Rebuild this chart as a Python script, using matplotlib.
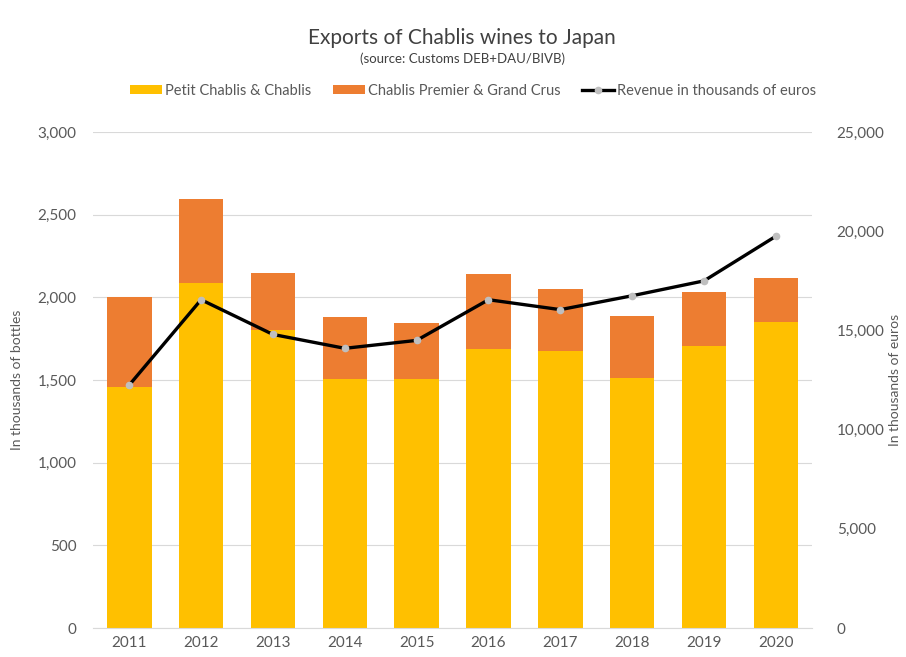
import numpy as np
import matplotlib.pyplot as plt
from matplotlib.ticker import FuncFormatter

plt.rcParams['font.family'] = ['Lato', 'DejaVu Sans']

# Export volumes (thousands of bottles) and revenue (thousands of euros)
years = ['2011', '2012', '2013', '2014', '2015', '2016', '2017', '2018', '2019', '2020']
petit_chablis = [1460, 2085, 1805, 1505, 1505, 1685, 1675, 1510, 1705, 1850]
premier_grand = [540, 510, 345, 375, 340, 455, 375, 375, 330, 270]
revenue = [12250, 16550, 14800, 14100, 14500, 16550, 16050, 16750, 17500, 19750]

YELLOW = '#FFC000'
ORANGE = '#ED7D31'
TEXT = '#595959'
GRID = '#D9D9D9'

fig = plt.figure(figsize=(9.06, 6.57), dpi=100)
ax = fig.add_axes([0.103, 0.044, 0.793, 0.755])
ax2 = ax.twinx()

x = np.arange(len(years))
w = 0.62
b1 = ax.bar(x, petit_chablis, w, color=YELLOW, label='Petit Chablis & Chablis', zorder=2)
b2 = ax.bar(x, premier_grand, w, bottom=petit_chablis, color=ORANGE,
            label='Chablis Premier & Grand Crus', zorder=2)
l1, = ax2.plot(x, revenue, color='black', lw=2.4, marker='o', ms=4.5,
               mfc='#BFBFBF', mec='#BFBFBF', label='Revenue in thousands of euros', zorder=3)

ax.set_xlim(-0.5, len(years) - 0.5)
ax.set_ylim(0, 3000)
ax.set_yticks(np.arange(0, 3001, 500))
ax2.set_ylim(0, 25000)
ax2.set_yticks(np.arange(0, 25001, 5000))

fmt = FuncFormatter(lambda v, p: f'{int(v):,}')
ax.yaxis.set_major_formatter(fmt)
ax2.yaxis.set_major_formatter(fmt)

ax.set_xticks(x)
ax.set_xticklabels(years)
ax.grid(axis='y', color=GRID, lw=0.8, zorder=0)
ax.set_axisbelow(True)

for a in (ax, ax2):
    for s in a.spines.values():
        s.set_visible(False)
    a.tick_params(length=0, colors=TEXT, labelsize=11)
ax.spines['bottom'].set_visible(True)
ax.spines['bottom'].set_color(GRID)
ax.tick_params(axis='y', pad=12)
ax2.tick_params(axis='y', pad=18)
ax.tick_params(axis='x', pad=6)

ax.set_ylabel('In thousands of bottles', color=TEXT, fontsize=10)
ax.yaxis.set_label_coords(-0.098, 0.5)
ax2.set_ylabel('In thousands of euros', color=TEXT, fontsize=10, rotation=90)
ax2.yaxis.set_label_coords(1.107, 0.5)

fig.text(0.51, 0.942, 'Exports of Chablis wines to Japan', ha='center', va='center',
         fontsize=15, color='#404040')
fig.text(0.51, 0.910, '(source: Customs DEB+DAU/BIVB)', ha='center', va='center',
         fontsize=9.5, color='#404040')

fig.legend(handles=[b1, b2, l1], loc='center', bbox_to_anchor=(0.522, 0.862), ncol=3,
           frameon=False, fontsize=10.5, handlelength=2.2, handleheight=0.6,
           columnspacing=1.5, handletextpad=0.2, labelcolor=TEXT)

fig.savefig('out.png', dpi=100)
